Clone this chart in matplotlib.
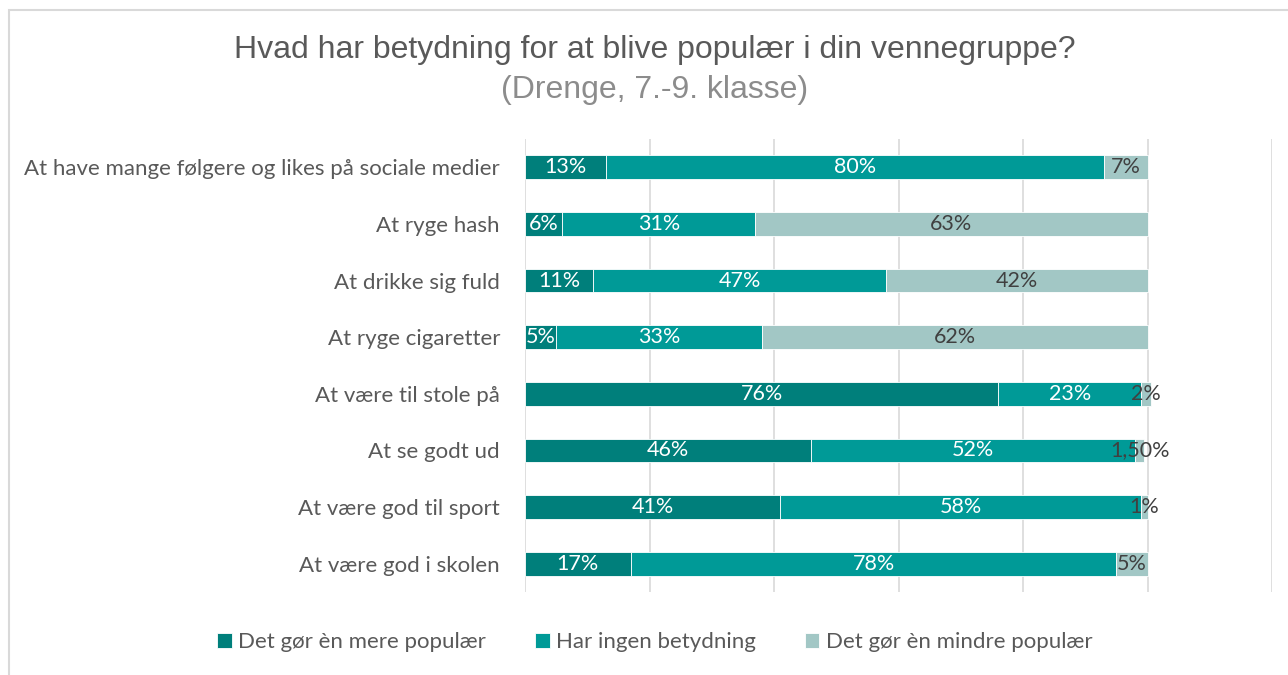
import matplotlib
matplotlib.use("Agg")
import matplotlib.pyplot as plt
from matplotlib.patches import Rectangle

# data (top to bottom)
categories = [
    "At have mange følgere og likes på sociale medier",
    "At ryge hash",
    "At drikke sig fuld",
    "At ryge cigaretter",
    "At være til stole på",
    "At se godt ud",
    "At være god til sport",
    "At være god i skolen",
]
mere = [13, 6, 11, 5, 76, 46, 41, 17]
ingen = [80, 31, 47, 33, 23, 52, 58, 78]
mindre = [7, 63, 42, 62, 1.5, 1.5, 1, 5]
mindre_labels = ["7%", "63%", "42%", "62%", "2%", "1,50%", "1%", "5%"]
series_names = ["Det gør èn mere populær", "Har ingen betydning", "Det gør èn mindre populær"]

col_dark = "#007F7B"
col_mid = "#009A97"
col_light = "#A2C7C5"
label_font = "Lato"

fig = plt.figure(figsize=(12.88, 6.75), dpi=100)
ax = fig.add_axes([525 / 1288, 1 - 592 / 675, (1272 - 525) / 1288, (592 - 139) / 675])

# outer chart border (top + left visible)
fig.patches.append(Rectangle((9 / 1288, -0.1), 1.2, (675 - 10) / 675 + 0.1,
                             transform=fig.transFigure, fill=False,
                             edgecolor="#D9D9D9", linewidth=1.5))

y = list(range(len(categories)))
h = 0.42
left2 = [a / 100 for a in mere]
left3 = [(a + b) / 100 for a, b in zip(mere, ingen)]
b1 = ax.barh(y, [v / 100 for v in mere], height=h, color=col_dark, edgecolor="white", linewidth=0.6, zorder=3)
b2 = ax.barh(y, [v / 100 for v in ingen], left=left2, height=h, color=col_mid, edgecolor="white", linewidth=0.6, zorder=3)
b3 = ax.barh(y, [v / 100 for v in mindre], left=left3, height=h, color=col_light, edgecolor="white", linewidth=0.6, zorder=3)

fs = 15.5
for i in y:
    ax.text((mere[i] / 200), i, f"{mere[i]}%", ha="center", va="center",
            color="white", fontsize=fs, family=label_font, zorder=4)
    ax.text(left2[i] + ingen[i] / 200, i, f"{ingen[i]}%", ha="center", va="center",
            color="white", fontsize=fs, family=label_font, zorder=4)
    ax.text(left3[i] + mindre[i] / 200, i, mindre_labels[i], ha="center", va="center",
            color="#404040", fontsize=fs, family=label_font, zorder=4)

ax.set_xlim(0, 1.2)
ax.set_ylim(len(categories) - 0.5, -0.5)
ax.set_xticks([0, 0.2, 0.4, 0.6, 0.8, 1.0, 1.2])
ax.set_xticklabels([])
ax.tick_params(axis="x", length=0)
ax.tick_params(axis="y", length=0, pad=18)
ax.set_yticks(y)
ax.set_yticklabels(categories, fontsize=16, color="#595959", family=label_font)
ax.grid(axis="x", color="#D9D9D9", linewidth=1.2, zorder=0)
for s in ax.spines.values():
    s.set_visible(False)

fig.text(655 / 1288, 1 - 50 / 675, "Hvad har betydning for at blive populær i din vennegruppe?",
         ha="center", va="center", fontsize=23, color="#595959", family="Liberation Sans")
fig.text(655 / 1288, 1 - 90 / 675, "(Drenge, 7.-9. klasse)",
         ha="center", va="center", fontsize=23, color="#8C8C8C", family="Liberation Sans")

leg = fig.legend([b1, b2, b3], series_names, loc="center", bbox_to_anchor=(655 / 1288, 1 - 642 / 675),
                 ncol=3, frameon=False, handlelength=0.65, handleheight=0.65, handletextpad=0.3,
                 columnspacing=2.2, prop={"family": label_font, "size": 16})
for t in leg.get_texts():
    t.set_color("#595959")

fig.savefig("out.png", dpi=100)
